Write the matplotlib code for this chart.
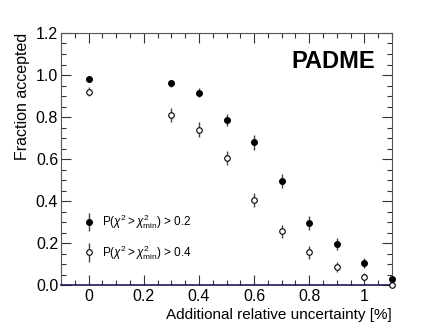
import numpy as np
import matplotlib
matplotlib.use('Agg')
import matplotlib.pyplot as plt
from matplotlib.ticker import MultipleLocator

plt.rcParams['font.family'] = ['Liberation Sans', 'DejaVu Sans']
plt.rcParams['mathtext.fontset'] = 'custom'
plt.rcParams['mathtext.rm'] = 'Liberation Sans'
plt.rcParams['mathtext.it'] = 'Liberation Sans:italic'

uncert = [0.0, 0.3, 0.4, 0.5, 0.6, 0.7, 0.8, 0.9, 1.0, 1.1]
frac_02 = [0.98, 0.96, 0.915, 0.785, 0.68, 0.495, 0.295, 0.195, 0.105, 0.03]
err_02 = [0.012, 0.018, 0.022, 0.03, 0.035, 0.035, 0.035, 0.03, 0.025, 0.015]
frac_04 = [0.92, 0.81, 0.74, 0.605, 0.405, 0.255, 0.155, 0.085, 0.038, 0.0]
err_04 = [0.022, 0.032, 0.035, 0.035, 0.035, 0.033, 0.03, 0.025, 0.02, 0.008]

label_02 = r'P($\chi^2 > \chi^2_{\rm min}$) > 0.2'
label_04 = r'P($\chi^2 > \chi^2_{\rm min}$) > 0.4'


def main():
    fig = plt.figure(figsize=(4.36, 3.31), dpi=100)
    ax = fig.add_axes([61 / 436, 1 - 285 / 331, 331 / 436, 252 / 331])

    ax.errorbar(uncert, frac_02, yerr=err_02, fmt='o', ms=4.0, color='black',
                mfc='black', ecolor='#444444', elinewidth=1.0, capsize=0,
                clip_on=False, zorder=3)
    ax.errorbar(uncert, frac_04, yerr=err_04, fmt='o', ms=4.0, color='black',
                mfc='white', mew=0.8, ecolor='#444444', elinewidth=1.0,
                capsize=0, clip_on=False, zorder=3)

    # legend drawn by hand, ROOT style
    ax.errorbar([0.0], [0.3], yerr=[0.045], fmt='o', ms=4.0, color='black',
                ecolor='#444444', elinewidth=1.0, capsize=0)
    ax.errorbar([0.0], [0.155], yerr=[0.045], fmt='o', ms=4.0, color='black',
                mfc='white', mew=0.8, ecolor='#444444', elinewidth=1.0,
                capsize=0)
    ax.text(0.05, 0.3, label_02, fontsize=8.5, va='center')
    ax.text(0.05, 0.155, label_04, fontsize=8.5, va='center')

    ax.text(0.95, 0.885, 'PADME', transform=ax.transAxes, ha='right',
            va='center', fontsize=17, fontweight='bold')

    ax.set_xlim(-0.1, 1.1)
    ax.set_ylim(0, 1.2)
    ax.xaxis.set_minor_locator(MultipleLocator(0.05))
    ax.yaxis.set_minor_locator(MultipleLocator(0.05))
    ax.set_xticks([0, 0.2, 0.4, 0.6, 0.8, 1.0])
    ax.set_xticklabels(['0', '0.2', '0.4', '0.6', '0.8', '1'])
    ax.set_yticks([0, 0.2, 0.4, 0.6, 0.8, 1.0, 1.2])
    ax.set_yticklabels(['0.0', '0.2', '0.4', '0.6', '0.8', '1.0', '1.2'])
    ax.tick_params(which='both', direction='in', top=True, right=True,
                   labelsize=11.5, color='#333333', width=0.8)
    ax.tick_params(which='major', length=7)
    ax.tick_params(axis='x', which='major', pad=3)
    ax.tick_params(axis='y', which='major', pad=2)
    ax.tick_params(which='minor', length=3.5)
    for s in ['top', 'left', 'right']:
        ax.spines[s].set_color('#555555')
        ax.spines[s].set_linewidth(0.8)
    ax.spines['bottom'].set_color('#1a1a5a')
    ax.spines['bottom'].set_linewidth(1.2)

    ax.set_xlabel('Additional relative uncertainty [%]', fontsize=11,
                  loc='right', labelpad=3)
    ax.set_ylabel('Fraction accepted', fontsize=11.5, loc='top', labelpad=4)

    fig.savefig('out.png', dpi=100)


if __name__ == '__main__':
    main()
